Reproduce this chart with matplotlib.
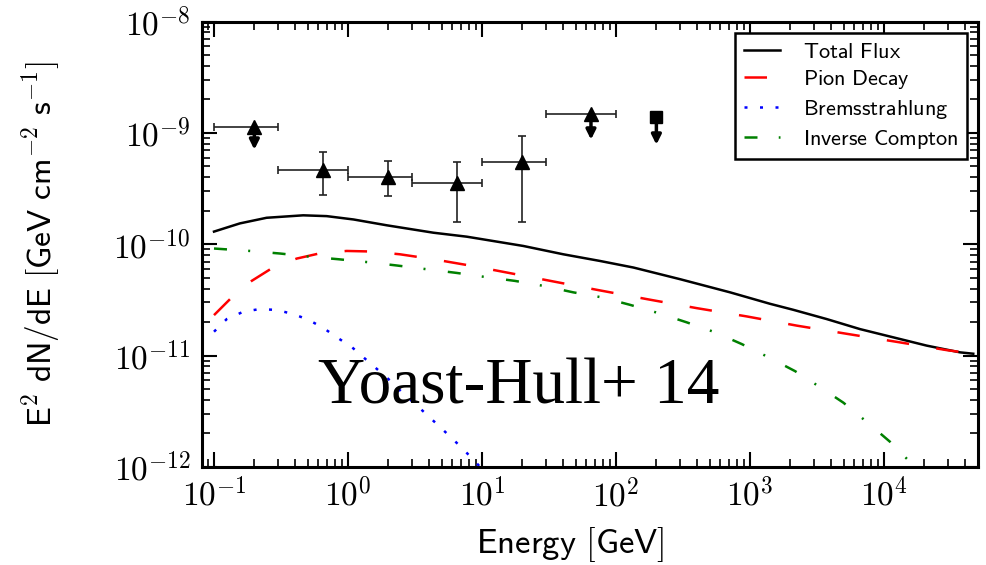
import matplotlib
matplotlib.use('Agg')
import numpy as np
import matplotlib.pyplot as plt
from matplotlib.ticker import LogLocator, FuncFormatter, NullFormatter

plt.rcParams['mathtext.fontset'] = 'cm'

# model curves (energy in GeV, E^2 dN/dE in GeV cm^-2 s^-1)
total_e = [0.1, 0.156, 0.247, 0.463, 0.693, 1.10, 1.95, 4.34, 7.7, 20.3, 40.4, 76,
           135, 300, 710, 1410, 2100, 3730, 6620, 11700, 20800, 36900, 46300]
total_f = [1.30e-10, 1.54e-10, 1.73e-10, 1.82e-10, 1.79e-10, 1.67e-10, 1.48e-10,
           1.27e-10, 1.17e-10, 9.66e-11, 8.13e-11, 7.08e-11, 6.18e-11, 4.86e-11,
           3.70e-11, 2.92e-11, 2.58e-11, 2.13e-11, 1.73e-11, 1.46e-11, 1.23e-11,
           1.07e-11, 1.04e-11]

pion_e = [0.1, 0.1355, 0.191, 0.27, 0.414, 0.618, 0.977, 1.50, 2.44, 4.33, 8.38,
          13.2, 30.4, 71.8, 169, 400, 944, 2230, 5270, 12400, 29400, 46300]
pion_f = [2.31e-11, 3.33e-11, 4.69e-11, 6.09e-11, 7.44e-11, 8.30e-11, 8.71e-11,
          8.61e-11, 8.13e-11, 7.34e-11, 6.40e-11, 5.77e-11, 4.76e-11, 3.90e-11,
          3.22e-11, 2.67e-11, 2.25e-11, 1.86e-11, 1.57e-11, 1.33e-11, 1.12e-11,
          1.04e-11]

brems_e = [0.1, 0.1245, 0.1656, 0.220, 0.294, 0.391, 0.506, 0.655, 0.847, 1.07,
           1.30, 1.64, 2.06, 2.52, 3.16, 3.87, 4.72, 5.94, 7.25, 8.87, 10.5]
brems_f = [1.64e-11, 2.13e-11, 2.48e-11, 2.62e-11, 2.57e-11, 2.36e-11, 2.10e-11,
           1.77e-11, 1.43e-11, 1.19e-11, 9.68e-12, 7.60e-12, 5.97e-12, 4.70e-12,
           3.70e-12, 2.95e-12, 2.36e-12, 1.82e-12, 1.44e-12, 1.12e-12, 9.0e-13]

ic_e = [0.1, 0.186, 0.311, 0.506, 0.847, 1.42, 2.31, 3.86, 6.47, 10.5, 17.6, 28.7,
        48, 78, 127, 207, 337, 548, 867, 1370, 2170, 3330, 4970, 7430, 11100,
        15600, 17500]
ic_f = [9.16e-11, 8.71e-11, 8.26e-11, 7.76e-11, 7.34e-11, 6.90e-11, 6.45e-11,
        5.97e-11, 5.53e-11, 5.09e-11, 4.69e-11, 4.23e-11, 3.70e-11, 3.34e-11,
        2.86e-11, 2.41e-11, 1.99e-11, 1.62e-11, 1.27e-11, 9.68e-12, 7.25e-12,
        5.21e-12, 3.78e-12, 2.54e-12, 1.68e-12, 1.11e-12, 9.0e-13]

# measured points with error bars
pt_e = [0.65, 2.0, 6.5, 20.0]
pt_elo = [0.3, 1.0, 3.0, 10.0]
pt_ehi = [1.0, 3.0, 10.0, 30.0]
pt_f = [4.69e-10, 4.06e-10, 3.52e-10, 5.53e-10]
pt_flo = [2.75e-10, 2.69e-10, 1.57e-10, 1.57e-10]
pt_fhi = [6.81e-10, 5.65e-10, 5.53e-10, 9.46e-10]

# upper limits (triangles with energy bins)
ul_e = [0.2, 65.0]
ul_elo = [0.1, 30.0]
ul_ehi = [0.3, 100.0]
ul_f = [1.14e-9, 1.49e-9]
ul_tip = [7.08e-10, 8.71e-10]

# upper limit shown as square
sq_e = [200.0]
sq_f = [1.40e-9]
sq_tip = [7.85e-10]

x_ticks = [0.1, 1, 10, 100, 1000, 10000]
y_ticks = [1e-12, 1e-11, 1e-10, 1e-9, 1e-8]

fig = plt.figure(figsize=(9.87, 5.65), dpi=100)
ax = fig.add_axes([0.2044, 0.1735, 0.7868, 0.7883])

lw = 1.8
ax.plot(total_e, total_f, color='k', lw=lw, label=r'$\mathsf{Total\ Flux}$')
ax.plot(pion_e, pion_f, color='#ff0000', lw=lw, dashes=(9, 11),
        label=r'$\mathsf{Pion\ Decay}$')
ax.plot(brems_e, brems_f, color='#0000ff', lw=lw, dashes=(1.2, 5),
        label=r'$\mathsf{Bremsstrahlung}$')
ax.plot(ic_e, ic_f, color='#008000', lw=lw, dashes=(5.2, 8.5, 0.8, 9),
        label=r'$\mathsf{Inverse\ Compton}$')

pt_e = np.array(pt_e)
pt_f = np.array(pt_f)
ax.errorbar(pt_e, pt_f,
            xerr=[pt_e - np.array(pt_elo), np.array(pt_ehi) - pt_e],
            yerr=[pt_f - np.array(pt_flo), np.array(pt_fhi) - pt_f],
            fmt='^', color='k', ecolor='#222222', ms=10, elinewidth=1.2,
            capsize=3, capthick=1.2)

ul_e = np.array(ul_e)
ax.errorbar(ul_e, ul_f, xerr=[ul_e - np.array(ul_elo), np.array(ul_ehi) - ul_e],
            fmt='^', color='k', ecolor='#222222', ms=10, elinewidth=1.2,
            capsize=3, capthick=1.2)
ax.plot(sq_e, sq_f, 's', color='k', ms=9)

for e, f, tip in zip(list(ul_e) + sq_e, ul_f + sq_f, ul_tip + sq_tip):
    ax.annotate('', xy=(e, tip), xytext=(e, f),
                arrowprops=dict(arrowstyle='-|>', color='k', lw=2.5,
                                mutation_scale=14, shrinkA=0, shrinkB=0))

ax.text(0.597, 3.70e-12, 'Yoast-Hull+ 14', family='Liberation Serif',
        fontsize=47, ha='left', va='baseline')

ax.set_xscale('log')
ax.set_yscale('log')
ax.set_xlim(0.081, 5.05e4)
ax.set_ylim(1e-12, 1e-8)

dec_fmt = FuncFormatter(lambda v, p: r'$10^{%d}$' % int(round(np.log10(v))))
ax.set_xticks(x_ticks)
ax.set_yticks(y_ticks)
ax.xaxis.set_minor_locator(LogLocator(base=10, subs=np.arange(2, 10), numticks=50))
ax.yaxis.set_minor_locator(LogLocator(base=10, subs=np.arange(2, 10), numticks=50))
ax.xaxis.set_major_formatter(dec_fmt)
ax.yaxis.set_major_formatter(dec_fmt)
ax.xaxis.set_minor_formatter(NullFormatter())
ax.yaxis.set_minor_formatter(NullFormatter())

ax.tick_params(which='both', direction='in', top=True, right=True, labelsize=24)
ax.tick_params(which='major', length=11, width=1.5)
ax.tick_params(which='minor', length=5.5, width=1.2)
ax.tick_params(axis='y', pad=8)
ax.tick_params(axis='x', pad=8)
for s in ax.spines.values():
    s.set_linewidth(2.2)

ax.set_xlabel(r'$\mathsf{Energy\ [GeV]}$', fontsize=25)
ax.xaxis.set_label_coords(0.474, -0.131)
ax.set_ylabel(r'$\mathsf{E^2\ dN/dE\ [GeV\ cm^{-2}\ s^{-1}]}$', fontsize=24,
              labelpad=36)

leg = ax.legend(loc='upper right', fontsize=16, fancybox=False, framealpha=1,
                edgecolor='k', borderaxespad=0.5, handlelength=1.6,
                handletextpad=1.05, labelspacing=0.3)
leg.get_frame().set_linewidth(1.8)

fig.savefig('out.png', dpi=100)
